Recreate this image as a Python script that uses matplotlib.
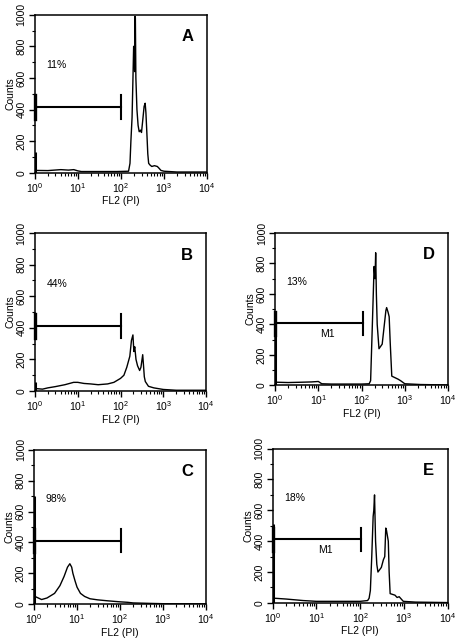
"""
Five PI-staining DNA histograms (FL2 on a log scale), panels A-E.
Writes out.png.
"""

import matplotlib
matplotlib.use("Agg")
import matplotlib.pyplot as plt
from matplotlib.ticker import MultipleLocator, LogLocator, NullFormatter

plt.rcParams["font.family"] = ["Liberation Sans", "DejaVu Sans"]
plt.rcParams["mathtext.default"] = "regular"

# --- values (FL2 channel, counts) ------------------------------------------
A_FL2 = [1.0, 1.05, 2, 4, 6, 8, 10, 12, 30, 80, 150, 162, 170, 181, 190, 197,
         203, 208, 212, 216, 222, 235, 250, 265, 285, 300, 320, 345, 365, 380,
         400, 420, 440, 470, 520, 600, 700, 760, 850, 1000, 2000, 10000]
A_COUNTS = [15, 15, 14, 20, 17, 20, 12, 8, 8, 8, 10, 60, 200, 350, 600, 800,
            780, 640, 990, 980, 600, 400, 300, 260, 270, 255, 330, 420, 440,
            380, 250, 120, 60, 50, 40, 45, 40, 30, 15, 10, 5, 5]

B_FL2 = [1.0, 1.1, 1.5, 2, 3, 5, 8, 10, 14, 20, 30, 50, 70, 100, 120, 140,
         165, 180, 195, 205, 215, 230, 250, 280, 300, 330, 345, 360, 380, 450,
         600, 1000, 2000, 10000]
B_COUNTS = [20, 15, 12, 20, 28, 40, 55, 55, 48, 45, 40, 45, 55, 80, 100, 150,
            220, 320, 355, 250, 280, 200, 160, 130, 150, 230, 160, 90, 60, 30,
            20, 10, 5, 5]

C_FL2 = [1.0, 1.05, 1.5, 2, 3, 4, 5, 6, 6.8, 7.5, 8, 9, 10, 12, 15, 20, 30,
         50, 100, 150, 200, 500, 1000, 10000]
C_COUNTS = [50, 50, 30, 40, 70, 120, 180, 240, 262, 240, 200, 150, 110, 70,
            50, 35, 28, 22, 15, 12, 8, 5, 3, 2]

D_FL2 = [1.0, 1.1, 2, 4, 7, 10, 12, 20, 50, 100, 150, 162, 176, 195, 205,
         212, 220, 230, 253, 300, 343, 365, 380, 410, 435, 460, 500, 700, 800,
         1000, 2300, 10000]
D_COUNTS = [20, 20, 18, 20, 22, 25, 10, 8, 8, 8, 10, 30, 360, 780, 700, 870,
            600, 400, 240, 270, 420, 490, 510, 480, 450, 280, 60, 40, 30, 10,
            5, 2]

E_FL2 = [1.0, 1.1, 2, 5, 10, 30, 100, 148, 160, 171, 184, 198, 205, 213, 225,
         240, 255, 305, 340, 365, 385, 400, 440, 460, 485, 625, 700, 780, 970,
         1850, 10000]
E_COUNTS = [30, 30, 25, 15, 10, 10, 10, 15, 30, 80, 300, 560, 600, 700, 400,
            250, 200, 230, 280, 300, 485, 470, 400, 200, 60, 50, 35, 40, 10,
            5, 2]

PANELS = ["A", "B", "C", "D", "E"]
PERCENTS = ["11%", "44%", "98%", "13%", "18%"]
FIRST_CHANNEL = [130, 60, 700, 490, 510]   # pile-up in the lowest channel
GATE_LEVEL = [415, 411, 412, 408, 413]
GATE_END = [100, 100, 105, 110, 107]
GATE_NAME = [None, None, None, "M1", "M1"]

SERIES = [(A_FL2, A_COUNTS), (B_FL2, B_COUNTS), (C_FL2, C_COUNTS),
          (D_FL2, D_COUNTS), (E_FL2, E_COUNTS)]

# axes boxes in figure fractions: left, bottom, width, height
BOXES = [
    [0.076, 0.730, 0.374, 0.247],
    [0.076, 0.389, 0.372, 0.247],
    [0.074, 0.056, 0.374, 0.241],
    [0.598, 0.398, 0.376, 0.238],
    [0.593, 0.058, 0.380, 0.241],
]


def draw_panel(fig, i):
    ax = fig.add_axes(BOXES[i])
    x, y = SERIES[i]
    ax.plot(x, y, color="black", lw=1.0)
    ax.vlines(1.0, 0, FIRST_CHANNEL[i], color="black", lw=2.2)

    # gate marker: bar from the left edge with end ticks
    lvl, end = GATE_LEVEL[i], GATE_END[i]
    ax.plot([1.0, end], [lvl, lvl], color="black", lw=1.5)
    ax.plot([end, end], [lvl - 75, lvl + 75], color="black", lw=1.5)
    ax.plot([1.0, 1.0], [lvl - 75, lvl + 75], color="black", lw=2.4, clip_on=False)
    if GATE_NAME[i]:
        ax.text(16, lvl - 70, GATE_NAME[i], fontsize=7.5, ha="center", va="center")

    ax.text(1.85, 680, PERCENTS[i], fontsize=7.5, ha="left", va="center")
    ax.text(0.89, 0.86, PANELS[i], transform=ax.transAxes, fontsize=12,
            fontweight="bold", ha="center", va="center")

    ax.set_xscale("log")
    ax.set_xlim(1, 1e4)
    ax.set_ylim(0, 1000)
    ax.xaxis.set_major_locator(LogLocator(base=10, numticks=10))
    ax.xaxis.set_minor_locator(LogLocator(base=10, subs=range(2, 10), numticks=10))
    ax.xaxis.set_minor_formatter(NullFormatter())
    ax.yaxis.set_major_locator(MultipleLocator(200))
    ax.yaxis.set_minor_locator(MultipleLocator(100))
    ax.tick_params(which="major", length=4, width=1, labelsize=7.5, pad=2)
    ax.tick_params(which="minor", length=2.5, width=0.8)
    for lab in ax.get_yticklabels():
        lab.set_rotation(90)
        lab.set_va("center")
    ax.set_ylabel("Counts", fontsize=7.5, labelpad=1)
    ax.set_xlabel("FL2 (PI)", fontsize=7.5, labelpad=1)
    for sp in ax.spines.values():
        sp.set_linewidth(1.1)


def main():
    fig = plt.figure(figsize=(4.6, 6.4), dpi=100)
    for i in range(len(PANELS)):
        draw_panel(fig, i)
    fig.savefig("out.png", dpi=100)
    plt.close(fig)


if __name__ == "__main__":
    main()
